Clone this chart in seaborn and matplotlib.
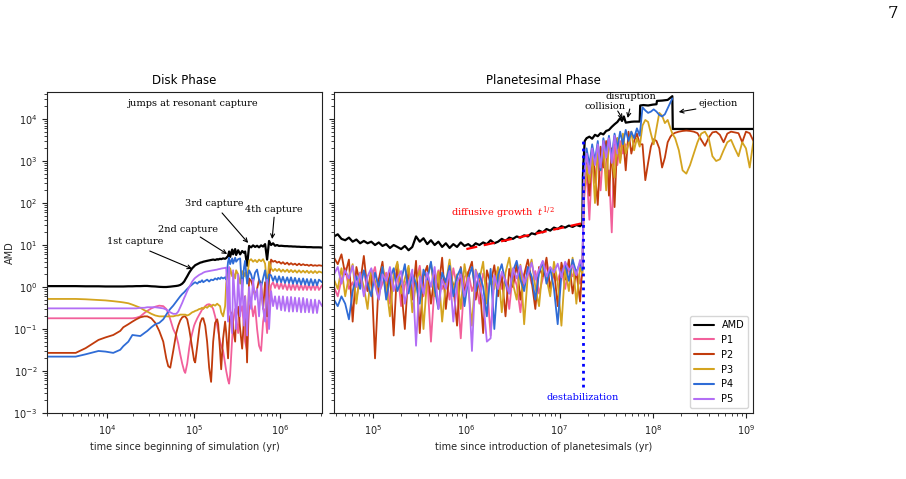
import numpy as np
import pandas as pd
import matplotlib
matplotlib.use("Agg")
import matplotlib.pyplot as plt
from matplotlib.lines import Line2D
from matplotlib.ticker import LogLocator, NullFormatter
import seaborn as sns

# ---------------- Disk phase data ----------------
disk_time = [2.0e3, 2.9e3, 4.3e3, 5.6e3, 7.9e3, 9.5e3, 1.17e4, 1.41e4, 1.53e4, 1.75e4,
             1.95e4, 2.16e4, 2.41e4, 2.68e4, 2.90e4, 3.23e4, 3.59e4, 3.99e4, 4.44e4, 4.81e4,
             5.07e4, 5.35e4, 5.79e4, 6.28e4, 6.62e4, 6.98e4, 7.36e4, 7.76e4, 7.98e4, 8.41e4,
             8.87e4, 9.12e4, 9.61e4, 1.01e5, 1.04e5, 1.10e5, 1.16e5, 1.19e5, 1.25e5, 1.29e5,
             1.36e5, 1.43e5, 1.51e5, 1.59e5, 1.68e5, 1.77e5, 1.87e5, 1.92e5, 2.02e5, 2.08e5,
             2.19e5, 2.31e5, 2.38e5, 2.50e5, 2.57e5, 2.64e5, 2.79e5, 2.86e5, 3.02e5, 3.10e5,
             3.27e5, 3.45e5, 3.64e5, 3.83e5, 3.94e5, 4.15e5, 4.38e5, 4.62e5, 4.87e5, 5.14e5,
             5.42e5, 5.71e5, 6.03e5, 6.36e5, 6.71e5, 7.08e5, 7.46e5, 7.87e5, 8.30e5, 8.75e5,
             9.23e5, 9.73e5, 1.03e6, 1.08e6, 1.14e6, 1.21e6, 1.27e6, 1.34e6, 1.41e6, 1.49e6,
             1.57e6, 1.66e6, 1.75e6, 1.85e6, 1.95e6, 2.05e6, 2.16e6, 2.28e6, 2.41e6, 2.54e6,
             2.68e6, 2.82e6, 3.06e6]
disk_amd = [1.05, 1.05, 1.05, 1.04, 1.04, 1.03, 1.03, 1.03, 1.03, 1.04,
            1.04, 1.05, 1.05, 1.06, 1.06, 1.04, 1.03, 1.01, 1.00, 1.00,
            1.01, 1.02, 1.04, 1.06, 1.08, 1.12, 1.20, 1.35, 1.5, 1.8,
            2.2, 2.4, 2.8, 3.1, 3.3, 3.5, 3.7, 3.8, 3.9, 4.0,
            4.1, 4.2, 4.3, 4.4, 4.5, 4.4, 4.6, 4.5, 4.7, 4.6,
            4.8, 4.7, 4.9, 5.5, 7.0, 5.2, 7.8, 6.0, 8.0, 5.8,
            7.5, 6.0, 7.2, 6.5, 7.0, 3.2, 9.5, 8.8, 9.8, 9.0,
            9.6, 8.8, 9.8, 9.2, 10.5, 4.5, 12.5, 10.0, 11.0, 9.6,
            10.0, 9.5, 9.6, 9.5, 9.4, 9.4, 9.3, 9.3, 9.2, 9.2,
            9.1, 9.1, 9.0, 9.0, 9.0, 8.9, 8.9, 8.9, 8.8, 8.8,
            8.8, 8.8, 8.7]
disk_p1 = [0.18, 0.18, 0.18, 0.18, 0.18, 0.18, 0.18, 0.18, 0.18, 0.18,
           0.18, 0.185, 0.2, 0.24, 0.27, 0.31, 0.34, 0.36, 0.35, 0.3,
           0.24, 0.17, 0.1, 0.07, 0.045, 0.025, 0.015, 0.01, 0.009, 0.015,
           0.035, 0.05, 0.08, 0.12, 0.14, 0.18, 0.22, 0.24, 0.29, 0.31,
           0.35, 0.38, 0.39, 0.37, 0.3, 0.2, 0.12, 0.09, 0.05, 0.04,
           0.03, 0.015, 0.01, 0.006, 0.005, 0.008, 0.06, 0.15, 0.3, 0.2,
           0.08, 0.25, 0.35, 0.1, 0.05, 0.03, 0.3, 0.45, 0.2, 0.35,
           0.1, 0.04, 0.03, 0.15, 0.3, 0.08, 0.4, 1.1, 1.3, 0.95,
           1.25, 0.9, 1.25, 0.9, 1.2, 0.85, 1.2, 0.85, 1.2, 0.85,
           1.2, 0.85, 1.15, 0.85, 1.15, 0.85, 1.15, 0.85, 1.15, 0.85,
           1.15, 0.85, 1.1]
disk_p2 = [0.027, 0.027, 0.027, 0.035, 0.055, 0.063, 0.072, 0.09, 0.11, 0.13,
           0.15, 0.17, 0.19, 0.2, 0.2, 0.18, 0.14, 0.09, 0.05, 0.02,
           0.013, 0.012, 0.03, 0.08, 0.12, 0.16, 0.19, 0.2, 0.2, 0.17,
           0.1, 0.07, 0.035, 0.018, 0.016, 0.04, 0.1, 0.14, 0.18, 0.18,
           0.12, 0.05, 0.012, 0.0055, 0.05, 0.14, 0.17, 0.13, 0.03, 0.011,
           0.06, 0.15, 0.08, 0.02, 0.08, 0.2, 0.25, 0.1, 0.05, 0.2,
           0.34, 0.1, 0.034, 0.2, 0.6, 0.016, 1.6, 1.4, 1.0, 0.6,
           0.9, 1.5, 1.2, 0.3, 1.3, 0.2, 1.5, 4.5, 4.0, 4.2,
           3.8, 4.0, 3.6, 3.9, 3.5, 3.8, 3.4, 3.7, 3.4, 3.6,
           3.3, 3.6, 3.3, 3.5, 3.3, 3.4, 3.2, 3.4, 3.2, 3.3,
           3.2, 3.3, 3.2]
disk_p3 = [0.52, 0.52, 0.52, 0.51, 0.49, 0.48, 0.46, 0.44, 0.43, 0.41,
           0.38, 0.35, 0.32, 0.28, 0.26, 0.23, 0.21, 0.2, 0.2, 0.2,
           0.2, 0.2, 0.2, 0.21, 0.21, 0.22, 0.22, 0.22, 0.22, 0.21,
           0.22, 0.23, 0.25, 0.26, 0.27, 0.28, 0.3, 0.3, 0.32, 0.3,
           0.34, 0.32, 0.36, 0.34, 0.38, 0.36, 0.4, 0.38, 0.35, 0.25,
           0.2, 0.35, 1.2, 2.5, 1.5, 2.8, 1.8, 2.2, 1.6, 2.5,
           2.0, 1.2, 2.4, 1.8, 2.2, 1.5, 4.2, 4.6, 4.0, 4.4,
           3.9, 4.5, 4.1, 4.6, 3.6, 1.0, 4.0, 2.8, 2.4, 2.7,
           2.4, 2.7, 2.3, 2.6, 2.3, 2.6, 2.25, 2.55, 2.25, 2.5,
           2.2, 2.5, 2.2, 2.45, 2.2, 2.45, 2.15, 2.4, 2.15, 2.4,
           2.15, 2.35, 2.2]
disk_p4 = [0.022, 0.022, 0.022, 0.025, 0.03, 0.029, 0.027, 0.032, 0.039, 0.05,
           0.072, 0.07, 0.068, 0.08, 0.09, 0.11, 0.13, 0.14, 0.17, 0.22,
           0.26, 0.3, 0.36, 0.45, 0.52, 0.6, 0.68, 0.75, 0.8, 0.9,
           1.0, 1.05, 1.15, 1.25, 1.3, 1.2, 1.35, 1.3, 1.45, 1.3,
           1.4, 1.5, 1.35, 1.5, 1.45, 1.6, 1.5, 1.65, 1.55, 1.7,
           1.6, 1.7, 1.5, 4.0, 5.0, 3.5, 4.8, 3.6, 5.0, 4.0,
           4.6, 4.8, 0.8, 3.0, 4.2, 1.2, 2.5, 2.0, 1.3, 2.2,
           2.6, 1.5, 1.0, 1.6, 2.5, 1.0, 2.0, 1.9, 1.4, 1.8,
           1.3, 1.8, 1.3, 1.75, 1.25, 1.7, 1.25, 1.7, 1.2, 1.65,
           1.2, 1.6, 1.15, 1.6, 1.15, 1.55, 1.1, 1.55, 1.1, 1.5,
           1.1, 1.5, 1.3]
disk_p5 = [0.31, 0.31, 0.31, 0.31, 0.31, 0.31, 0.31, 0.31, 0.31, 0.31,
           0.31, 0.31, 0.32, 0.32, 0.33, 0.33, 0.33, 0.32, 0.31, 0.29,
           0.27, 0.25, 0.23, 0.23, 0.26, 0.33, 0.42, 0.55, 0.62, 0.8,
           1.0, 1.1, 1.35, 1.55, 1.65, 1.8, 1.95, 2.0, 2.1, 2.2,
           2.3, 2.35, 2.4, 2.45, 2.5, 2.55, 2.6, 2.65, 2.7, 2.75,
           2.8, 2.85, 2.9, 0.15, 3.0, 0.3, 0.08, 2.5, 0.4, 0.1,
           2.0, 0.2, 1.5, 0.12, 0.6, 0.07, 1.0, 0.3, 1.5, 0.5,
           0.9, 0.2, 1.2, 0.3, 0.15, 1.5, 0.1, 0.8, 0.35, 0.6,
           0.3, 0.6, 0.28, 0.6, 0.27, 0.58, 0.26, 0.58, 0.26, 0.56,
           0.26, 0.55, 0.25, 0.55, 0.25, 0.52, 0.25, 0.5, 0.24, 0.5,
           0.24, 0.48, 0.35]

# ---------------- Planetesimal phase data ----------------
# sample times given as log10(yr)
pl_logt = [4.58, 4.62, 4.66, 4.70, 4.74, 4.78, 4.82, 4.86, 4.90, 4.94,
           4.98, 5.02, 5.06, 5.10, 5.14, 5.18, 5.22, 5.26, 5.30, 5.34,
           5.38, 5.42, 5.46, 5.50, 5.54, 5.58, 5.62, 5.66, 5.70, 5.74,
           5.78, 5.82, 5.86, 5.90, 5.94, 5.98, 6.02, 6.06, 6.10, 6.14,
           6.18, 6.22, 6.26, 6.30, 6.34, 6.38, 6.42, 6.46, 6.50, 6.54,
           6.58, 6.62, 6.66, 6.70, 6.74, 6.78, 6.82, 6.86, 6.90, 6.94,
           6.98, 7.02, 7.06, 7.10, 7.14, 7.18, 7.22, 7.245,
           7.26, 7.29, 7.32, 7.35, 7.38, 7.41, 7.44, 7.47, 7.50, 7.53,
           7.56, 7.59, 7.62, 7.65, 7.68, 7.71, 7.74, 7.77, 7.80, 7.83,
           7.86, 7.89, 7.92, 7.95, 7.98, 8.01, 8.04, 8.07, 8.10, 8.13,
           8.16, 8.19, 8.21, 8.24, 8.28, 8.32, 8.36, 8.40, 8.44, 8.48,
           8.52, 8.56, 8.60, 8.64, 8.68, 8.72, 8.76, 8.80, 8.84, 8.88,
           8.92, 8.96, 9.00, 9.04, 9.08]
pl_p1 = [1.0, 0.6, 1.5, 2.8, 0.9, 1.3, 0.5, 1.9, 2.4, 0.8,
         1.6, 3.0, 0.7, 1.2, 2.2, 0.4, 1.5, 2.6, 0.35, 1.1,
         2.0, 0.8, 1.4, 3.2, 0.6, 1.8, 0.05, 1.2, 2.5, 0.9,
         1.6, 0.5, 2.8, 1.0, 0.06, 1.7, 2.3, 0.8, 1.4, 0.4,
         2.1, 1.2, 0.07, 1.8, 2.6, 0.9, 1.5, 0.3, 2.2, 1.1,
         0.25, 1.9, 3.0, 1.2, 2.4, 0.7, 1.6, 3.4, 1.0, 2.0,
         1.4, 2.8, 0.9, 3.2, 1.8, 2.5, 1.2, 2.2,
         100, 600, 40, 1000, 300, 1500, 200, 2000, 500, 600,
         20, 2500, 800, 3000, 1500, 2500]
pl_p2 = [5.0, 3.5, 6.0, 2.0, 4.5, 0.15, 3.0, 1.2, 5.5, 0.8,
         2.5, 0.02, 1.5, 4.0, 0.6, 2.2, 0.07, 3.5, 1.0, 0.1,
         2.8, 0.5, 4.2, 0.08, 1.8, 3.2, 0.4, 2.0, 0.9, 5.0,
         0.3, 2.4, 1.1, 0.12, 3.0, 0.7, 2.2, 4.0, 0.5, 1.6,
         0.08, 2.5, 1.2, 3.3, 0.6, 1.9, 0.2, 2.7, 1.0, 3.6,
         0.5, 2.0, 4.5, 1.4, 0.3, 3.0, 1.8, 5.0, 0.9, 2.6,
         0.35, 3.8, 1.5, 4.5, 0.7, 2.4, 0.45, 3.0,
         200, 1000, 150, 1800, 500, 90, 2200, 700, 3000, 150,
         2000, 80, 3500, 1000, 4000, 600, 5000, 1500, 3000, 4500,
         2500, 2500, 350, 900, 2200, 3300, 3000, 2000, 700, 1200,
         2800, 3800, 4300, 4700, 5000, 5200, 5300, 5200, 5000, 4600,
         3200, 2300, 3600, 4800, 5000, 4200, 2800, 4500, 5000, 4800,
         4600, 2800, 5000, 4600, 3000]
pl_p3 = [1.5, 0.9, 2.8, 0.6, 1.8, 3.5, 0.4, 2.2, 1.0, 0.3,
         2.6, 1.4, 0.5, 3.0, 1.1, 0.2, 2.0, 4.0, 0.7, 1.6,
         3.2, 0.25, 1.3, 2.5, 0.1, 1.7, 3.8, 0.6, 2.3, 0.15,
         1.2, 4.5, 0.8, 2.0, 0.3, 3.5, 1.0, 0.12, 2.6, 1.5,
         4.0, 0.4, 1.8, 0.9, 3.0, 0.25, 2.2, 5.0, 1.2, 0.5,
         3.4, 0.13, 2.0, 4.5, 1.0, 0.35, 3.2, 1.6, 0.6, 4.0,
         1.3, 0.12, 2.8, 0.8, 5.0, 0.4, 3.0, 2.0,
         150, 800, 300, 1500, 100, 2000, 600, 2500, 200, 3000,
         1200, 400, 3500, 900, 4500, 1500, 2500, 5000, 1800, 3500,
         2200, 7000, 9500, 8500, 4500, 2500, 6000, 14000, 12000, 8000,
         9500, 6000, 4500, 3500, 1800, 600, 500, 800, 1500, 2800,
         4500, 5000, 3500, 1300, 1000, 1100, 1800, 2800, 3200, 2000,
         1300, 2800, 2000, 700, 3000]
pl_p4 = [0.5, 0.35, 0.6, 0.4, 0.17, 0.8, 1.8, 0.9, 2.5, 1.2,
         0.6, 2.2, 1.0, 3.0, 0.5, 1.6, 2.8, 0.8, 1.4, 3.5,
         0.7, 2.0, 1.2, 0.4, 2.6, 1.5, 4.0, 0.9, 0.3, 2.2,
         1.3, 3.2, 0.6, 1.8, 2.8, 0.35, 1.6, 3.0, 0.8, 2.1,
         1.0, 0.2, 2.7, 0.1, 1.9, 3.5, 1.2, 0.7, 2.4, 4.2,
         1.5, 0.8, 3.0, 1.8, 0.5, 2.2, 4.0, 1.2, 2.8, 0.9,
         0.13, 2.0, 3.5, 1.4, 4.5, 2.2, 3.8, 2.5,
         400, 2000, 800, 2500, 1000, 3000, 600, 3500, 1500, 4000,
         1200, 4500, 2000, 5000, 2500, 5500, 3000, 5000, 3500, 6000,
         4000, 19000, 16000, 14000, 15000, 17000, 15000, 12500, 11500, 13000,
         18000, 25000, 31000]
pl_p5 = [2.0, 3.0, 1.2, 2.5, 1.6, 3.2, 1.0, 2.2, 0.6, 1.8,
         2.8, 1.1, 0.5, 2.0, 1.4, 3.0, 0.8, 1.6, 2.4, 0.4,
         1.2, 2.6, 0.04, 1.8, 0.7, 2.2, 1.0, 3.0, 0.3, 1.5,
         0.9, 2.4, 0.15, 1.3, 2.0, 0.6, 1.7, 0.03, 2.5, 1.1,
         0.5, 0.05, 0.06, 1.9, 0.9, 2.3, 1.4, 0.7, 2.8, 1.6,
         3.2, 1.2, 2.0, 3.8, 1.5, 2.6, 4.2, 1.8, 3.0, 2.2,
         3.6, 1.7, 4.0, 2.5, 3.3, 1.9, 4.4, 3.0,
         300, 1500, 500, 2000, 800, 2500, 700, 3000, 1200, 3500,
         900, 4000, 1500]
pl_amd_logt = [4.58, 4.62, 4.66, 4.70, 4.74, 4.78, 4.82, 4.86, 4.90, 4.94,
               4.98, 5.02, 5.06, 5.10, 5.14, 5.18, 5.22, 5.26, 5.30, 5.34,
               5.38, 5.42, 5.46, 5.50, 5.54, 5.58, 5.62, 5.66, 5.70, 5.74,
               5.78, 5.82, 5.86, 5.90, 5.94, 5.98, 6.02, 6.06, 6.10, 6.14,
               6.18, 6.22, 6.26, 6.30, 6.34, 6.38, 6.42, 6.46, 6.50, 6.54,
               6.58, 6.62, 6.66, 6.70, 6.74, 6.78, 6.82, 6.86, 6.90, 6.94,
               6.98, 7.02, 7.06, 7.10, 7.14, 7.18, 7.22, 7.245,
               7.25, 7.255, 7.27, 7.29, 7.32, 7.35, 7.38, 7.41, 7.44, 7.47,
               7.50, 7.53, 7.56, 7.59, 7.62, 7.65, 7.67, 7.69, 7.71, 7.74,
               7.77, 7.80, 7.86, 7.865, 7.90, 7.95, 8.00, 8.04, 8.045, 8.10,
               8.16, 8.21, 8.215, 9.08]
pl_amd = [16, 18, 14, 13, 15, 12, 13.5, 11, 12.5, 11,
          12, 10, 11.5, 9.5, 10.5, 8.5, 10, 9, 8, 9.5,
          7.5, 9, 16, 12, 14.5, 10.5, 13, 10, 12, 9,
          11, 8.5, 10.5, 9, 11.5, 9.5, 10.5, 9, 11, 10,
          11.5, 10.5, 13, 11, 12, 14, 12.5, 15, 14, 16,
          15, 17, 16, 19, 18, 22, 20, 24, 22, 26,
          24, 28, 26, 29, 27, 30, 28, 32,
          420, 800, 3000, 3500, 3800, 3400, 4200, 3900, 4600, 4300,
          5200, 5500, 6500, 7500, 8500, 10500, 9000, 11500, 8200, 8400,
          8600, 8700, 8700, 21000, 21500, 21000, 22000, 22500, 27000, 27500,
          28500, 35000, 5800, 5800]

diffusive_time = [1.0e6, 1.7e7]
diffusive_amd = [8.0, 32.5]
destab_time = [1.77e7, 1.77e7]
destab_amd = [0.0042, 3300]

series_names = ["AMD", "P1", "P2", "P3", "P4", "P5"]
colors = {"AMD": "black", "P1": "#f2609b", "P2": "#c13b0c", "P3": "#d4a41f",
          "P4": "#2f6cd6", "P5": "#b26ef5"}
widths = {"AMD": 1.6, "P1": 1.3, "P2": 1.3, "P3": 1.3, "P4": 1.3, "P5": 1.3}

# ---------------- Figure ----------------
sns.set_style("ticks")
plt.rcParams["font.family"] = ["DejaVu Sans"]
plt.rcParams["axes.edgecolor"] = "#222222"
plt.rcParams["xtick.color"] = "#222222"
plt.rcParams["ytick.color"] = "#222222"
plt.rcParams["text.color"] = "black"

W, H = 906, 479
fig = plt.figure(figsize=(W / 100, H / 100), dpi=100)
ax1 = fig.add_axes([47 / W, 1 - 413 / H, (322 - 47) / W, (413 - 92) / H])
ax2 = fig.add_axes([334 / W, 1 - 413 / H, (753 - 334) / W, (413 - 92) / H], sharey=ax1)

for ax in (ax1, ax2):
    ax.set_xscale("log")
    ax.set_yscale("log")

disk_df = pd.DataFrame({"time": disk_time, "AMD": disk_amd, "P1": disk_p1, "P2": disk_p2,
                        "P3": disk_p3, "P4": disk_p4, "P5": disk_p5})
for name in series_names:
    sns.lineplot(data=disk_df, x="time", y=name, color=colors[name], lw=widths[name],
                 ax=ax1, estimator=None)

pl_time = 10.0 ** np.array(pl_logt)
pl_series = {"AMD": (10.0 ** np.array(pl_amd_logt), pl_amd),
             "P1": (pl_time[:len(pl_p1)], pl_p1),
             "P2": (pl_time[:len(pl_p2)], pl_p2),
             "P3": (pl_time[:len(pl_p3)], pl_p3),
             "P4": (pl_time[:len(pl_p4)], pl_p4),
             "P5": (pl_time[:len(pl_p5)], pl_p5)}
for name in series_names:
    t, v = pl_series[name]
    d = pd.DataFrame({"time": t, "AMD": v})
    sns.lineplot(data=d, x="time", y="AMD", color=colors[name], lw=widths[name],
                 ax=ax2, estimator=None)

sns.lineplot(x=diffusive_time, y=diffusive_amd, color="red", lw=1.6, ax=ax2,
             estimator=None, linestyle=(0, (5, 3)))
ax2.plot(destab_time, destab_amd, color="blue", lw=2.0, linestyle=(0, (1, 1.5)))

ax1.set_xlim(2.0e3, 3.06e6)
ax2.set_xlim(3.8e4, 1.19e9)
ax1.set_ylim(1e-3, 4.4e4)

for ax in (ax1, ax2):
    ax.yaxis.set_major_locator(LogLocator(base=10, numticks=20))
    ax.yaxis.set_minor_locator(LogLocator(base=10, subs=(2, 3, 4, 5, 6, 7, 8, 9), numticks=20))
    ax.yaxis.set_minor_formatter(NullFormatter())
    ax.xaxis.set_major_locator(LogLocator(base=10, numticks=20))
    ax.xaxis.set_minor_locator(LogLocator(base=10, subs=(2, 3, 4, 5, 6, 7, 8, 9), numticks=20))
    ax.xaxis.set_minor_formatter(NullFormatter())
    ax.tick_params(labelsize=7, which="both")
ax2.tick_params(labelleft=False)

ax1.set_title("Disk Phase", fontsize=8.5)
ax2.set_title("Planetesimal Phase", fontsize=8.5)
ax1.set_xlabel("time since beginning of simulation (yr)", fontsize=7)
ax2.set_xlabel("time since introduction of planetesimals (yr)", fontsize=7)
ax1.set_ylabel("AMD", fontsize=7)
ax1.yaxis.set_label_coords(-0.118, 0.5)
ax2.set_ylabel("")

serif = dict(family="DejaVu Serif", fontsize=7)
arrow = dict(arrowstyle="->", color="black", lw=0.8, shrinkA=0, shrinkB=0, mutation_scale=7)

# disk annotations
ax1.text(9.87e4, 2.4e4, "jumps at resonant capture", ha="center", va="center", **serif)
ax1.text(2.11e4, 11.8, "1st capture", ha="center", va="center", **serif)
ax1.annotate("", xy=(9.6e4, 2.7), xytext=(3.1e4, 7.2), arrowprops=arrow)
ax1.text(8.63e4, 22.8, "2nd capture", ha="center", va="center", **serif)
ax1.annotate("", xy=(2.44e5, 6.1), xytext=(1.19e5, 15.5), arrowprops=arrow)
ax1.text(1.73e5, 95, "3rd capture", ha="center", va="center", **serif)
ax1.annotate("", xy=(4.27e5, 11.2), xytext=(2.13e5, 58), arrowprops=arrow)
ax1.text(8.53e5, 72, "4th capture", ha="center", va="center", **serif)
ax1.annotate("", xy=(8.1e5, 13.9), xytext=(8.53e5, 46), arrowprops=arrow)

# planetesimal annotations
ax2.text(2.44e6, 58, "diffusive growth  $t^{1/2}$", ha="center", va="center", color="red",
         math_fontfamily="dejavuserif", **serif)
ax2.text(1.77e7, 0.0024, "destabilization", ha="center", va="center", color="blue", **serif)
ax2.text(3.05e7, 2.04e4, "collision", ha="center", va="center", **serif)
ax2.annotate("", xy=(4.75e7, 1.0e4), xytext=(4.21e7, 1.55e4), arrowprops=arrow)
ax2.text(5.8e7, 3.5e4, "disruption", ha="center", va="center", **serif)
ax2.annotate("", xy=(5.38e7, 1.06e4), xytext=(5.66e7, 1.73e4), arrowprops=arrow)
ax2.text(5.0e8, 2.4e4, "ejection", ha="center", va="center", **serif)
ax2.annotate("", xy=(1.9e8, 1.47e4), xytext=(2.9e8, 1.73e4), arrowprops=arrow)

handles = [Line2D([], [], color=colors[n], lw=1.5) for n in series_names]
ax2.legend(handles, series_names, loc="lower right", fontsize=7, handlelength=2.0)

fig.text(893 / W, 1 - 14 / H, "7", ha="center", va="center", family="DejaVu Serif", fontsize=12)

fig.savefig("out.png", dpi=100)
